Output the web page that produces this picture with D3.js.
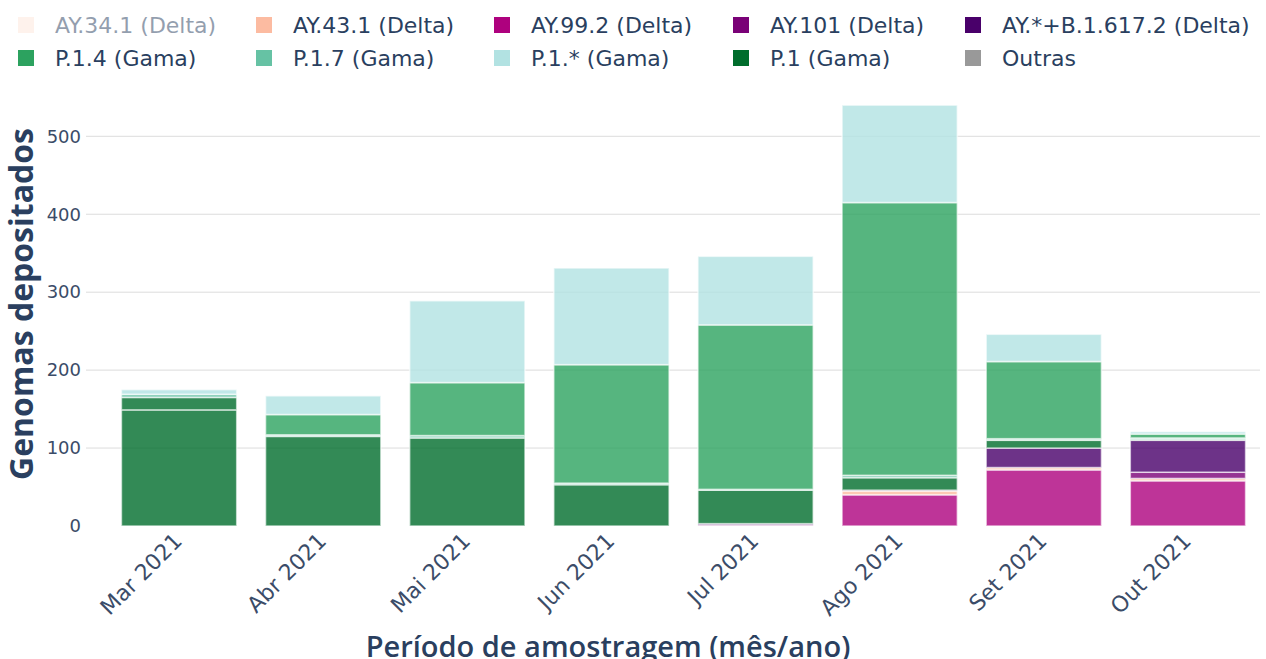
<!DOCTYPE html>
<html>
<head>
<meta charset="utf-8">
<script src="https://cdn.jsdelivr.net/npm/d3@7"></script>
<style>
  body { margin: 0; background: #fff; }
  text { font-family: "DejaVu Sans", Verdana, sans-serif; }
  .title { font-family: "Open Sans", sans-serif; }
</style>
</head>
<body>
<div class="container"></div>
<script>
// months on the x axis
const months = ['Mar 2021', 'Abr 2021', 'Mai 2021', 'Jun 2021', 'Jul 2021', 'Ago 2021', 'Set 2021', 'Out 2021']

// genomes per lineage and month
const ay341 = [0, 0, 0, 0, 0, 0, 0, 0]
const ay992 = [0, 0, 0, 0, 1, 40, 72, 58]
const ay431 = [0, 0, 0, 0, 0, 5, 3, 3]
const ay101 = [0, 0, 0, 0, 0, 0, 0, 8]
const ayB16172 = [0, 0, 0, 0, 2, 1, 25, 41]
const p1 = [149, 115, 113, 53, 43, 16, 10, 1]
const p1Rest = [16, 0, 0, 0, 0, 0, 0, 0] // second block of P.1 rows in March
const p17 = [4, 2, 3, 2, 1, 3, 2, 2]
const p14 = [0, 26, 68, 152, 211, 350, 99, 5]
const p1Star = [6, 24, 105, 124, 88, 125, 35, 3]
const outras = [0, 0, 0, 0, 0, 0, 0, 0]

const yTicks = [0, 100, 200, 300, 400, 500]

// legend order (as in the picture)
const legendNames = ['AY.34.1 (Delta)', 'AY.43.1 (Delta)', 'AY.99.2 (Delta)', 'AY.101 (Delta)', 'AY.*+B.1.617.2 (Delta)',
  'P.1.4 (Gama)', 'P.1.7 (Gama)', 'P.1.* (Gama)', 'P.1 (Gama)', 'Outras']
const legendColors = ['#fee0d2', '#fcbba1', '#ae017e', '#7a0177', '#49006a',
  '#2ca25f', '#66c2a4', '#b2e2e2', '#006d2c', '#999999']
const hidden = ['AY.34.1 (Delta)']

// stacking order, bottom to top
const stack = [
  ['AY.34.1 (Delta)', ay341],
  ['AY.99.2 (Delta)', ay992],
  ['AY.43.1 (Delta)', ay431],
  ['AY.101 (Delta)', ay101],
  ['AY.*+B.1.617.2 (Delta)', ayB16172],
  ['P.1 (Gama)', p1],
  ['P.1 (Gama)', p1Rest],
  ['P.1.7 (Gama)', p17],
  ['P.1.4 (Gama)', p14],
  ['P.1.* (Gama)', p1Star],
  ['Outras', outras]
]

const W = 1266, H = 659
const svg = d3.select('.container').append('svg')
  .attr('width', W)
  .attr('height', H)

const x = d3.scaleBand()
  .domain(months)
  .range([107, 1260])
  .paddingInner(0.2)
  .paddingOuter(0.1)

const y = d3.scaleLinear()
  .domain([0, 568.4])
  .range([526, 83])

const color = d3.scaleOrdinal().domain(legendNames).range(legendColors)

// gridlines
svg.append('g')
  .selectAll('line')
  .data(yTicks.filter(d => d > 0))
  .join('line')
  .attr('x1', 86)
  .attr('x2', 1260)
  .attr('y1', d => y(d))
  .attr('y2', d => y(d))
  .attr('stroke', '#dcdcdc')
  .attr('stroke-width', 1)

// y tick labels
svg.append('g')
  .selectAll('text')
  .data(yTicks)
  .join('text')
  .attr('x', 81)
  .attr('y', d => y(d))
  .attr('dy', '0.35em')
  .attr('text-anchor', 'end')
  .attr('font-size', 18)
  .attr('fill', '#3b4c68')
  .text(d => d)

// stacked bars
const segments = []
months.forEach((m, i) => {
  let base = 0
  stack.forEach(([name, vals]) => {
    if (hidden.includes(name)) return
    const v = vals[i]
    if (v > 0) segments.push({ month: m, name, y0: base, y1: base + v })
    base += v
  })
})

svg.append('g')
  .selectAll('rect')
  .data(segments)
  .join('rect')
  .attr('x', d => x(d.month))
  .attr('width', x.bandwidth())
  .attr('y', d => y(d.y1))
  .attr('height', d => y(d.y0) - y(d.y1))
  .attr('fill', d => color(d.name))
  .attr('fill-opacity', 0.8)
  .attr('stroke', '#ffffff')
  .attr('stroke-opacity', 0.6)
  .attr('stroke-width', 1.6)

// x tick labels
svg.append('g')
  .selectAll('text')
  .data(months)
  .join('text')
  .attr('transform', d => `translate(${x(d) + x.bandwidth() / 2 - 1},${537}) rotate(-45)`)
  .attr('dy', '0.35em')
  .attr('text-anchor', 'end')
  .attr('font-size', 22)
  .attr('fill', '#3b4c68')
  .text(d => d)

// axis titles
svg.append('text')
  .attr('class', 'title')
  .attr('transform', 'translate(33,304) rotate(-90)')
  .attr('text-anchor', 'middle')
  .attr('font-size', 32)
  .attr('font-weight', 'bold')
  .attr('fill', '#2a3f5f')
  .text('Genomas depositados')

svg.append('text')
  .attr('class', 'title')
  .attr('x', 608)
  .attr('y', 657)
  .attr('text-anchor', 'middle')
  .attr('font-size', 29)
  .attr('font-weight', 600)
  .attr('fill', '#2a3f5f')
  .text('Período de amostragem (mês/ano)')

// legend, 5 columns x 2 rows
const colX = [18, 256, 494, 733, 965]
const rowY = [25, 58]
const legend = svg.append('g')
  .selectAll('g')
  .data(legendNames)
  .join('g')
  .attr('transform', (d, i) => `translate(${colX[i % 5]},${rowY[Math.floor(i / 5)]})`)
  .attr('opacity', d => hidden.includes(d) ? 0.5 : 1)

legend.append('rect')
  .attr('x', 0)
  .attr('y', -8)
  .attr('width', 16)
  .attr('height', 16)
  .attr('fill', d => color(d))
  .attr('fill-opacity', d => hidden.includes(d) ? 0.8 : 1)

legend.append('text')
  .attr('x', 37)
  .attr('dy', '0.35em')
  .attr('font-size', 22)
  .attr('fill', '#2a3f5f')
  .text(d => d)
</script>
</body>
</html>
